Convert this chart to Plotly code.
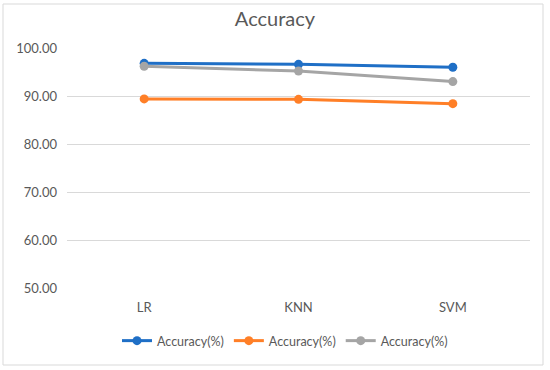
import plotly.graph_objects as go

categories = ["LR", "KNN", "SVM"]
series_names = ["Accuracy(%)", "Accuracy(%)", "Accuracy(%)"]
blue_vals = [96.8, 96.6, 96.0]
orange_vals = [89.4, 89.3, 88.4]
gray_vals = [96.2, 95.2, 93.0]
colors = ["#1f6fc6", "#ff7f27", "#a5a5a5"]
y_ticks = [50, 60, 70, 80, 90, 100]

fig = go.Figure()
for name, vals, c in zip(series_names, [blue_vals, orange_vals, gray_vals], colors):
    fig.add_trace(go.Scatter(
        x=categories, y=vals, name=name, mode="lines+markers",
        line=dict(color=c, width=3), marker=dict(color=c, size=9),
    ))

L, R, T, B = 67, 530, 48, 288
W, H = 550, 370
pw, ph = R - L, B - T

def px(x):
    return (x - L) / pw

def py(y):
    return (B - y) / ph

fig.update_layout(
    width=W, height=H,
    margin=dict(l=L, r=W - R, t=T, b=H - B),
    paper_bgcolor="white", plot_bgcolor="white",
    font=dict(family="Lato, Open Sans, sans-serif", color="#595959", size=13),
    title=dict(text="Accuracy", x=0.5, xanchor="center", y=1 - 19 / H, yanchor="middle",
               font=dict(size=20, color="#595959")),
    showlegend=True,
    legend=dict(orientation="h", x=px(285), xanchor="center", y=py(341), yanchor="middle",
                font=dict(size=12.5, color="#595959"), itemwidth=30, tracegroupgap=0),
    xaxis=dict(type="category", range=[-0.5, 2.5], showgrid=False, showline=False,
               zeroline=False, ticks="", ticklabelstandoff=10,
               tickfont=dict(size=13, color="#595959")),
    yaxis=dict(range=[50, 100], tickvals=y_ticks, tickformat=".2f", showgrid=True,
               gridcolor="#d9d9d9", gridwidth=1, zeroline=False, showline=False,
               ticks="", ticklen=0, ticklabelstandoff=9,
               tickfont=dict(size=13, color="#595959")),
    shapes=[dict(type="rect", xref="paper", yref="paper",
                 x0=px(3), x1=px(543), y0=py(365), y1=py(4),
                 line=dict(color="#d9d9d9", width=1), layer="below")],
)

fig.write_html("out.html", config={"displayModeBar": False},
               post_script="document.body.style.margin='0';")
